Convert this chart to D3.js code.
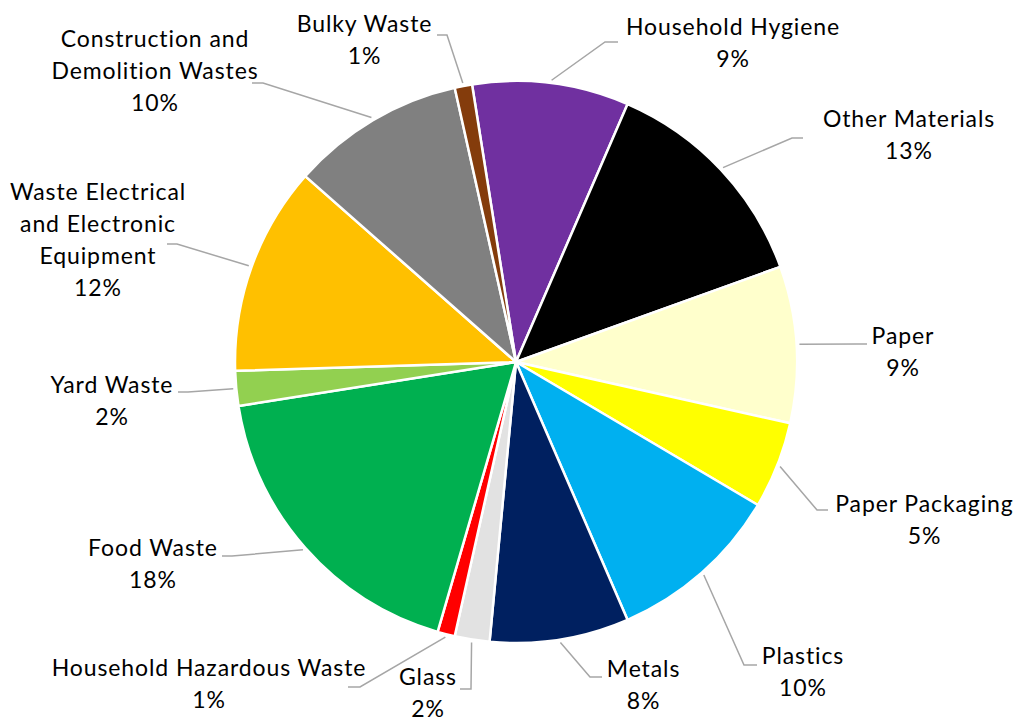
<!DOCTYPE html>
<html>
<head>
<meta charset="utf-8">
<script src="https://cdn.jsdelivr.net/npm/d3@7"></script>
<style>
  html, body { margin: 0; padding: 0; background: #ffffff; }
  svg { display: block; }
  .lbl { font-family: Lato, "Open Sans", sans-serif; font-size: 23px; fill: #000000; letter-spacing: 0.9px; }
</style>
</head>
<body>
<svg id="chart" width="1019" height="722"></svg>
<script>
// Waste composition by category (percent of total), clockwise from the top
const categories = [
  "Household Hygiene", "Other Materials", "Paper", "Paper Packaging", "Plastics",
  "Metals", "Glass", "Household Hazardous Waste", "Food Waste", "Yard Waste",
  "Waste Electrical and Electronic Equipment", "Construction and Demolition Wastes", "Bulky Waste"
];
const shares = [9, 13, 9, 5, 10, 8, 2, 1, 18, 2, 12, 10, 1];

// Label text, one entry per line
const labelLines = [
  ["Household Hygiene"], ["Other Materials"], ["Paper"], ["Paper Packaging"], ["Plastics"],
  ["Metals"], ["Glass"], ["Household Hazardous Waste"], ["Food Waste"], ["Yard Waste"],
  ["Waste Electrical", "and Electronic", "Equipment"], ["Construction and", "Demolition Wastes"], ["Bulky Waste"]
];

// Slice fills
const palette = [
  "#7030A0", "#000000", "#FFFFCC", "#FFFF00", "#00B0F0",
  "#002060", "#E2E2E2", "#FF0000", "#00B050", "#92D050",
  "#FFC000", "#808080", "#843C0C"
];

// Label placement: text centre x, first baseline y, leader elbow (ex, ey) and leader end x
const labelLayout = [
  { tx: 733,   ty: 35,  ex: 605, ey: 42,  hx: 618 },
  { tx: 909,   ty: 127, ex: 792, ey: 138, hx: 803 },
  { tx: 903,   ty: 344, ex: 857, ey: 344, hx: 867 },
  { tx: 924.5, ty: 512, ex: 817, ey: 510, hx: 828 },
  { tx: 803,   ty: 664, ex: 744, ey: 665, hx: 757 },
  { tx: 643.5, ty: 677, ex: 590, ey: 677, hx: 602 },
  { tx: 428,   ty: 685, ex: 471, ey: 689, hx: 460 },
  { tx: 209,   ty: 676, ex: 360, ey: 687, hx: 348 },
  { tx: 153,   ty: 556, ex: 232, ey: 556, hx: 222 },
  { tx: 112,   ty: 393, ex: 188, ey: 392, hx: 178 },
  { tx: 98,    ty: 200, ex: 177, ey: 244, hx: 167 },
  { tx: 155,   ty: 47,  ex: 263, ey: 83,  hx: 252 },
  { tx: 364.5, ty: 32,  ex: 447, ey: 35,  hx: 437 }
];

const cx = 516, cy = 362, radius = 281;
const lineGap = 32;
const startAngle = -9 * Math.PI / 180;

const svg = d3.select("#chart");
const g = svg.append("g").attr("transform", `translate(${cx},${cy})`);

const data = categories.map((c, i) => ({ name: c, value: shares[i], idx: i }));

const pie = d3.pie()
  .value(d => d.value)
  .sort(null)
  .startAngle(startAngle)
  .endAngle(startAngle + 2 * Math.PI);

const arcs = pie(data);
const arc = d3.arc().innerRadius(0).outerRadius(radius);

g.selectAll("path.slice")
  .data(arcs)
  .join("path")
  .attr("class", "slice")
  .attr("d", arc)
  .attr("fill", d => palette[d.data.idx])
  .attr("stroke", "#ffffff")
  .attr("stroke-width", 2.5)
  .attr("stroke-linejoin", "round");

// Leader lines: from the slice rim at its mid-angle to the elbow, then a short horizontal run
const leaderR = radius + 3;
const leaders = svg.append("g");
arcs.forEach(a => {
  const mid = (a.startAngle + a.endAngle) / 2;
  const sx = cx + leaderR * Math.sin(mid);
  const sy = cy - leaderR * Math.cos(mid);
  const L = labelLayout[a.data.idx];
  leaders.append("polyline")
    .attr("points", `${sx},${sy} ${L.ex},${L.ey} ${L.hx},${L.ey}`)
    .attr("fill", "none")
    .attr("stroke", "#A6A6A6")
    .attr("stroke-width", 1.5);
});

// Labels: category name lines followed by the percentage
const fmt = d3.format(".0%");
const labels = svg.append("g");
arcs.forEach(a => {
  const i = a.data.idx;
  const L = labelLayout[i];
  const lines = labelLines[i].concat([fmt(a.data.value / 100)]);
  const t = labels.append("text")
    .attr("class", "lbl")
    .attr("text-anchor", "middle");
  lines.forEach((s, k) => {
    t.append("tspan")
      .attr("x", L.tx)
      .attr("y", L.ty + k * lineGap)
      .text(s);
  });
});
</script>
</body>
</html>
